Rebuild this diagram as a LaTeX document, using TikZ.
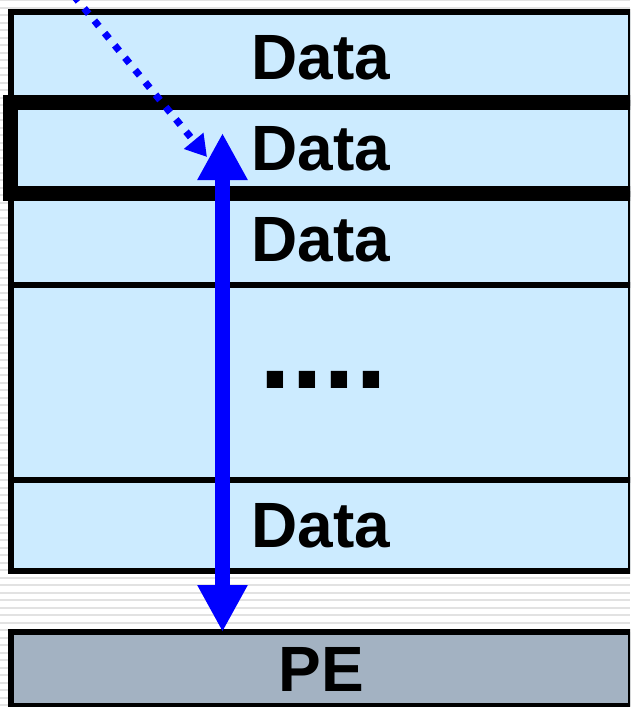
\documentclass[tikz,border=0pt]{standalone}
\usepackage{fontspec}
\setmainfont{Liberation Sans}
\usetikzlibrary{arrows.meta}
\definecolor{cellblue}{HTML}{CCEBFF}
\definecolor{pegray}{HTML}{A3B2C2}
\definecolor{stripegray}{HTML}{E2E2E2}
\definecolor{linkblue}{HTML}{0000FF}
\tikzset{
  cell/.style={draw=black, line width=6pt, fill=cellblue, minimum width=620pt,
    inner sep=0pt, outer sep=0pt, font=\fontsize{64}{64}\selectfont\bfseries},
  pebox/.style={cell, fill=pegray},
  focus/.style={draw=black, line width=15pt},
  access/.style={draw=linkblue, line width=15pt,
    {Triangle[width=47pt,length=47pt]}-{Triangle[width=47pt,length=47pt]}},
  request/.style={draw=linkblue, line width=7pt, dash pattern=on 7pt off 9pt,
    -{Triangle[width=24pt,length=21pt]}},
}
\begin{document}
\begin{tikzpicture}[x=1pt, y=-1pt]
  \useasboundingbox (0,0) rectangle (630,707);
  \clip (0,0) rectangle (630,707);
  % striped backdrop
  \fill[white] (0,0) rectangle (630,707);
  \foreach \k in {0,...,94}
    \fill[stripegray] (0,7.5*\k-0.8) rectangle (630,7.5*\k+1.2);
  % memory column
  \node[cell, minimum height=91pt]  (d1)   at (321,57.5)  {Data};
  \node[cell, minimum height=91pt]  (d2)   at (321,148.5) {Data};
  \node[cell, minimum height=91pt]  (d3)   at (321,239.5) {Data};
  \node[cell, minimum height=195pt] (dots) at (321,382.5) {};
  \node[cell, minimum height=91pt]  (d5)   at (321,525.5) {Data};
  \node[font=\fontsize{115}{115}\selectfont\bfseries, inner sep=0pt, anchor=base]
    (ellipsis) at (323.5,388) {....};
  % processing element
  \node[pebox, minimum height=74pt] (pe) at (321,669) {PE};
  % selected word
  \draw[focus] (10.5,102) rectangle (638,193);
  % data path between the selected word and the PE
  \coordinate (top) at (222.5,133);
  \draw[access] (top) -- (top |- pe.north);
  % incoming address
  \coordinate (src) at (74,-4);
  \coordinate (target) at (207,157);
  \draw[request] (src) -- (target);
\end{tikzpicture}
\end{document}
